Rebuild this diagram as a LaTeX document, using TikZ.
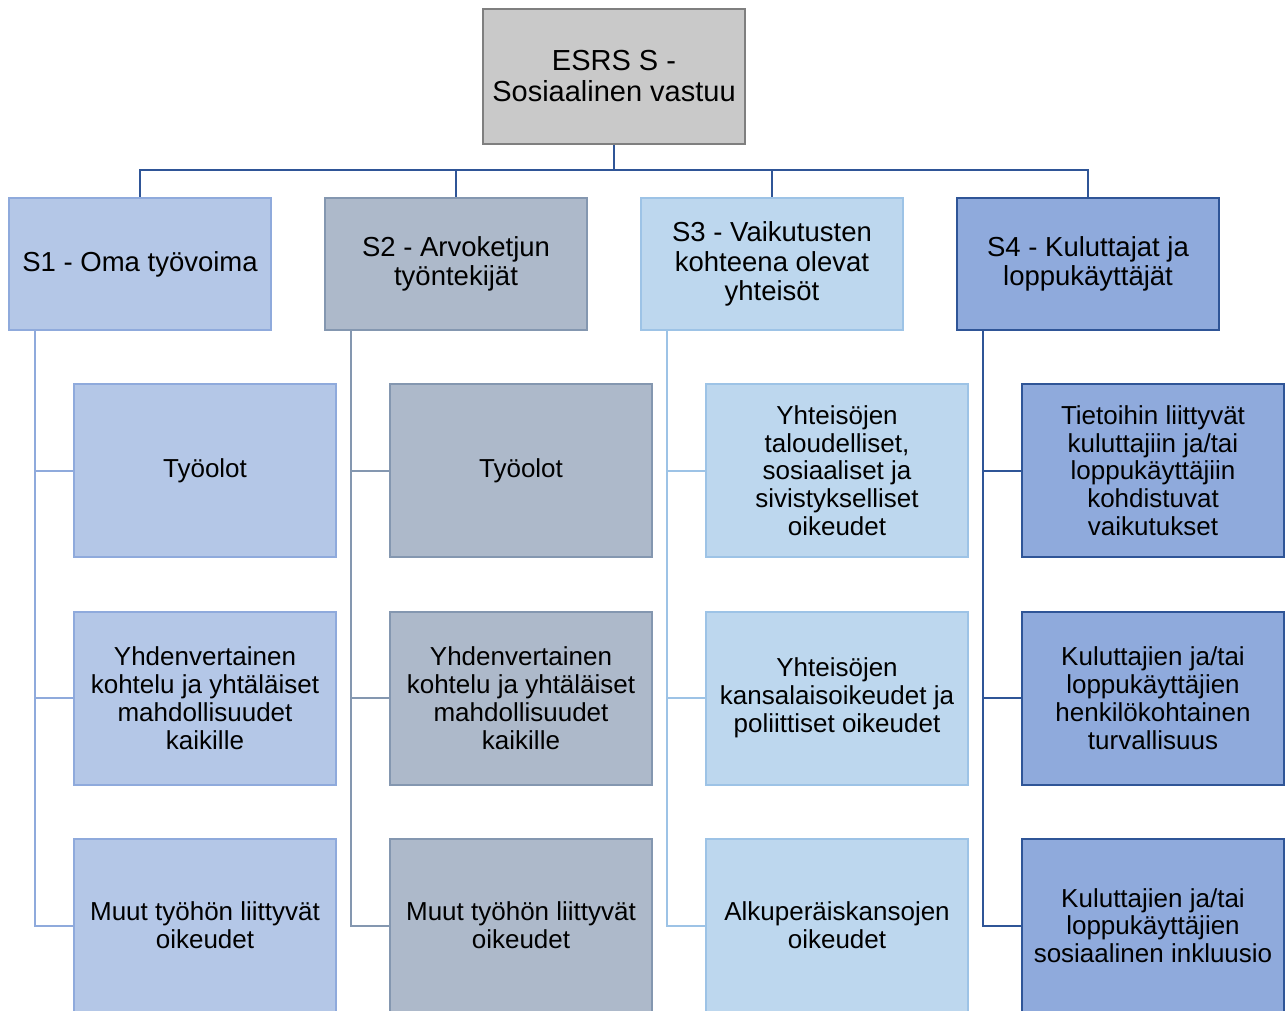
\documentclass[tikz,border=0pt]{standalone}
\usepackage{fontspec}
\setmainfont{Liberation Sans}
\definecolor{topfill}{HTML}{C9C9C9}
\definecolor{topdraw}{HTML}{7F7F7F}
\definecolor{afill}{HTML}{B4C7E7}
\definecolor{adraw}{HTML}{8FAADC}
\definecolor{bfill}{HTML}{ADB9CA}
\definecolor{bdraw}{HTML}{8497B0}
\definecolor{cfill}{HTML}{BDD7EE}
\definecolor{cdraw}{HTML}{9DC3E6}
\definecolor{dfill}{HTML}{8FAADC}
\definecolor{ddraw}{HTML}{2F5597}
\begin{document}
\begin{tikzpicture}[x=1pt,y=-1pt,
  box/.style={rectangle, line width=2pt, align=center, minimum width=262pt, inner sep=1pt, text=black},
  topbox/.style={box, fill=topfill, draw=topdraw, minimum height=135pt, font=\fontsize{29}{31}\selectfont},
  catbox/.style={box, minimum height=132pt, font=\fontsize{27.5}{29.5}\selectfont},
  subbox/.style={box, minimum height=173pt, font=\fontsize{26}{27.8}\selectfont},
  sA/.style={fill=afill, draw=adraw}, sB/.style={fill=bfill, draw=bdraw},
  sC/.style={fill=cfill, draw=cdraw}, sD/.style={fill=dfill, draw=ddraw},
  bus/.style={draw=ddraw, line width=2pt},
  link/.style={line width=2pt}
]
\useasboundingbox (0,0) rectangle (1285,1010);
\clip (0,0) rectangle (1285,1010);
\fill[white] (0,0) rectangle (1285,1010);

\node[topbox] (top) at (614,76.5) {ESRS S -\\Sosiaalinen vastuu};

\node[catbox,sA] (s1) at (140,264) {S1 - Oma työvoima};
\node[catbox,sB] (s2) at (456,264) {S2 - Arvoketjun\\työntekijät};
\node[catbox,sC] (s3) at (772,264) {S3 - Vaikutusten\\kohteena olevat\\yhteisöt};
\node[catbox,sD] (s4) at (1088,264) {S4 - Kuluttajat ja\\loppukäyttäjät};

\coordinate (busy) at (614,170);
\foreach \s in {s1,s2,s3,s4}
  \draw[bus] (top.south) -- (top.south |- busy) -| (\s.north);

% S1 children
\node[subbox,sA] (c11) at (205,470.5) {Työolot};
\node[subbox,sA] (c12) at (205,698) {Yhdenvertainen\\kohtelu ja yhtäläiset\\mahdollisuudet\\kaikille};
\node[subbox,sA] (c13) at (205,925.5) {Muut työhön liittyvät\\oikeudet};
% S2 children
\node[subbox,sB] (c21) at (521,470.5) {Työolot};
\node[subbox,sB] (c22) at (521,698) {Yhdenvertainen\\kohtelu ja yhtäläiset\\mahdollisuudet\\kaikille};
\node[subbox,sB] (c23) at (521,925.5) {Muut työhön liittyvät\\oikeudet};
% S3 children
\node[subbox,sC] (c31) at (837,470.5) {Yhteisöjen\\taloudelliset,\\sosiaaliset ja\\sivistykselliset\\oikeudet};
\node[subbox,sC] (c32) at (837,698) {Yhteisöjen\\kansalaisoikeudet ja\\poliittiset oikeudet};
\node[subbox,sC] (c33) at (837,925.5) {Alkuperäiskansojen\\oikeudet};
% S4 children
\node[subbox,sD] (c41) at (1153,470.5) {Tietoihin liittyvät\\kuluttajiin ja/tai\\loppukäyttäjiin\\kohdistuvat\\vaikutukset};
\node[subbox,sD] (c42) at (1153,698) {Kuluttajien ja/tai\\loppukäyttäjien\\henkilökohtainen\\turvallisuus};
\node[subbox,sD] (c43) at (1153,925.5) {Kuluttajien ja/tai\\loppukäyttäjien\\sosiaalinen inkluusio};

\foreach \p/\c/\col in {s1/c1/adraw, s2/c2/bdraw, s3/c3/cdraw, s4/c4/ddraw}{
  \foreach \k in {1,2,3}
    \draw[link, draw=\col] ([xshift=27pt]\p.south west) |- (\c\k.west);
}
\end{tikzpicture}
\end{document}
